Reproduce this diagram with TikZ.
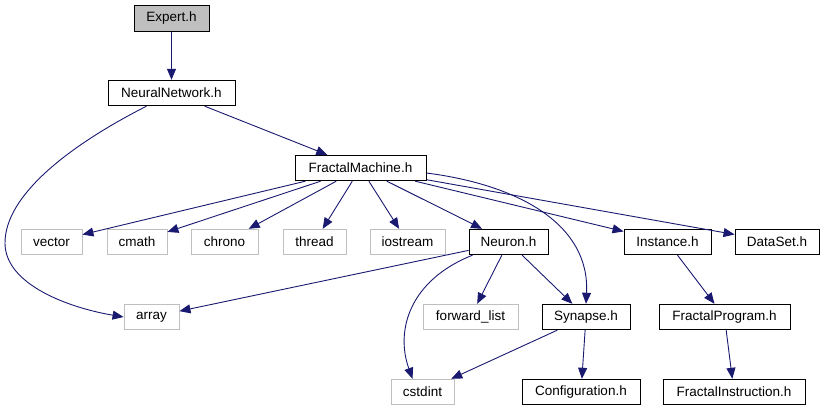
\documentclass[tikz,border=0pt]{standalone}
\usepackage{fontspec}
\setmainfont{Liberation Sans}
\usepackage{tikz}
\usetikzlibrary{arrows.meta}
\usepackage{xcolor}
\definecolor{edgeblue}{HTML}{191970}
\definecolor{sysgray}{HTML}{BFBFBF}

\begin{document}
\begin{tikzpicture}[x=1pt, y=-1pt,
    hbox/.style={draw=black, line width=0.9pt, fill=white, inner sep=0pt,
        minimum height=25.5pt, font=\fontsize{13.5}{16}\selectfont},
    sysbox/.style={hbox, draw=sysgray},
    incl/.style={draw=edgeblue, line width=0.9pt, -{Triangle[length=11pt, width=9pt]}}]
    \useasboundingbox (0,0) rectangle (825,411);

    % Project headers
    \node[hbox, fill=sysgray, minimum width=75] (expert) at (171.5, 18.5) {Expert.h};
    \node[hbox, minimum width=127] (neuralnet) at (171.5, 93) {NeuralNetwork.h};
    \node[hbox, minimum width=131] (fractalmachine) at (360.5, 168) {FractalMachine.h};
    \node[hbox, minimum width=79] (neuron) at (508.5, 242) {Neuron.h};
    \node[hbox, minimum width=87] (instance) at (667.5, 242) {Instance.h};
    \node[hbox, minimum width=84] (dataset) at (777, 242) {DataSet.h};
    \node[hbox, minimum width=88] (synapse) at (586, 317) {Synapse.h};
    \node[hbox, minimum width=131] (fractalprogram) at (724.5, 317) {FractalProgram.h};
    \node[hbox, minimum width=118] (configuration) at (581, 392) {Configuration.h};
    \node[hbox, minimum width=142] (fractalinstruction) at (734, 392) {FractalInstruction.h};

    % System headers
    \node[sysbox, minimum width=61] (vector) at (51.5, 242) {vector};
    \node[sysbox, minimum width=60] (cmath) at (137, 242) {cmath};
    \node[sysbox, minimum width=67] (chrono) at (224.5, 242) {chrono};
    \node[sysbox, minimum width=63] (thread) at (314.5, 242) {thread};
    \node[sysbox, minimum width=75] (iostream) at (407.5, 242) {iostream};
    \node[sysbox, minimum width=55] (array) at (151.5, 317) {array};
    \node[sysbox, minimum width=95] (forwardlist) at (470.5, 317) {forward\_list};
    \node[sysbox, minimum width=63] (cstdint) at (422.5, 392) {cstdint};

    % Includes
    \draw[incl] (expert) -- (neuralnet);
    \draw[incl] (neuralnet) -- (fractalmachine);
    \draw[incl] ([xshift=-25]neuralnet.south) .. controls (70,145) and (5,195) .. (5,243)
        .. controls (5,285) and (70,308) .. (array.west);
    \foreach \dst in {vector, cmath, chrono, thread, iostream, neuron, instance, dataset}
        \draw[incl] (fractalmachine) -- (\dst);
    \draw[incl] ([yshift=-5]fractalmachine.east) .. controls (520,185) and (590,225) .. (synapse.north);
    \draw[incl] (neuron) -- (array);
    \draw[incl] ([xshift=-36]neuron.south) .. controls (410,280) and (395,330) .. ([xshift=-10]cstdint.north);
    \draw[incl] (neuron) -- (forwardlist);
    \draw[incl] (neuron) -- (synapse);
    \draw[incl] (synapse) -- (cstdint);
    \draw[incl] (synapse) -- (configuration);
    \draw[incl] (instance) -- (fractalprogram);
    \draw[incl] (fractalprogram) -- (fractalinstruction);

\end{tikzpicture}
\end{document}
